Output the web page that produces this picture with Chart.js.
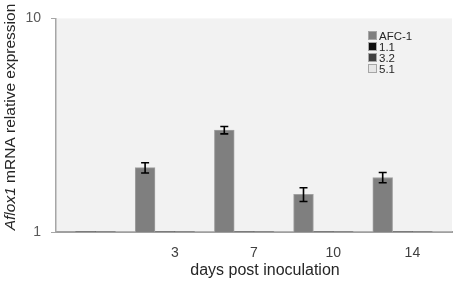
<!DOCTYPE html>
<html>
<head>
<meta charset="utf-8">
<script src="https://cdn.jsdelivr.net/npm/chart.js@4/dist/chart.umd.min.js"></script>
<style>
  html, body { margin: 0; padding: 0; background: #ffffff; }
  #wrap { width: 454px; height: 286px; }
</style>
</head>
<body>
<div id="wrap"><canvas id="c" width="454" height="286"></canvas></div>
<script>
// ---- data ----
const categories = ["", "3", "7", "10", "14"];
const seriesNames = ["AFC-1", "1.1", "3.2", "5.1"];
const afc1 = [null, 2.0, 3.0, 1.5, 1.8];
const afc1Err = [null, 0.11, 0.12, 0.11, 0.10];
const s11 = [1, 1, 1, 1, 1];
const s32 = [1, 1, 1, 1, 1];
const s51 = [1, 1, 1, 1, 1];
const yTicks = [1, 10];
const yTitleItalic = "Aflox1";
const yTitleRest = " mRNA relative expression";
const xTitle = "days post inoculation";

const colors = ["#7f7f7f", "#0d0d0d", "#404040", "#e6e6e6"];
const FONT = "'Liberation Sans', Arial, sans-serif";

const plotBg = {
  id: 'plotBg',
  beforeDraw(chart) {
    const {ctx, chartArea: a} = chart;
    ctx.save();
    ctx.fillStyle = '#f2f2f2';
    ctx.fillRect(a.left, a.top, a.right - a.left, a.bottom - a.top);
    ctx.restore();
  }
};

const errorBars = {
  id: 'errorBars',
  afterDatasetsDraw(chart) {
    const ctx = chart.ctx;
    const meta = chart.getDatasetMeta(0);
    const y = chart.scales.y;
    ctx.save();
    ctx.strokeStyle = '#000';
    ctx.lineWidth = 1.6;
    meta.data.forEach((bar, i) => {
      const v = afc1[i], e = afc1Err[i];
      if (v == null || e == null) return;
      const x = bar.x;
      const yt = y.getPixelForValue(v + e);
      const yb = y.getPixelForValue(v - e);
      ctx.beginPath();
      ctx.moveTo(x, yt); ctx.lineTo(x, yb);
      ctx.moveTo(x - 4, yt); ctx.lineTo(x + 4, yt);
      ctx.moveTo(x - 4, yb); ctx.lineTo(x + 4, yb);
      ctx.stroke();
    });
    ctx.restore();
  }
};

const texts = {
  id: 'texts',
  afterDraw(chart) {
    const ctx = chart.ctx;
    ctx.save();
    // y axis title (mixed italic / normal)
    ctx.fillStyle = '#262626';
    ctx.textBaseline = 'middle';
    const fs = 15.5;
    const fItal = 'italic ' + fs + 'px ' + FONT;
    const fNorm = fs + 'px ' + FONT;
    ctx.font = fItal; const w1 = ctx.measureText(yTitleItalic).width;
    ctx.font = fNorm; const w2 = ctx.measureText(yTitleRest).width;
    const total = w1 + w2;
    ctx.translate(11, 117);
    ctx.rotate(-Math.PI / 2);
    ctx.textAlign = 'left';
    ctx.font = fItal; ctx.fillText(yTitleItalic, -total / 2, 0);
    ctx.font = fNorm; ctx.fillText(yTitleRest, -total / 2 + w1, 0);
    ctx.setTransform(1, 0, 0, 1, 0, 0);
    // x axis title
    ctx.font = '16px ' + FONT;
    ctx.textAlign = 'center';
    ctx.textBaseline = 'alphabetic';
    ctx.fillText(xTitle, 265, 275);
    // legend
    ctx.font = '11.5px ' + FONT;
    ctx.textAlign = 'left';
    ctx.textBaseline = 'middle';
    chart.data.datasets.forEach((ds, i) => {
      const cy = 36 + i * 11;
      ctx.fillStyle = ds.backgroundColor;
      ctx.fillRect(368.5, cy - 4.5, 8, 8);
      ctx.strokeStyle = '#a6a6a6';
      ctx.lineWidth = 1;
      ctx.strokeRect(368.5, cy - 4.5, 8, 8);
      ctx.fillStyle = '#262626';
      ctx.fillText(ds.label, 379, cy + 0.5);
    });
    ctx.restore();
  }
};

new Chart(document.getElementById('c'), {
  type: 'bar',
  data: {
    labels: categories,
    datasets: [
      { label: seriesNames[0], data: afc1, backgroundColor: colors[0], borderColor: '#a0a0a0', borderWidth: 1 },
      { label: seriesNames[1], data: s11, backgroundColor: colors[1], borderColor: '#a0a0a0', borderWidth: 0 },
      { label: seriesNames[2], data: s32, backgroundColor: colors[2], borderColor: '#a0a0a0', borderWidth: 0 },
      { label: seriesNames[3], data: s51, backgroundColor: colors[3], borderColor: '#a0a0a0', borderWidth: 0 }
    ]
  },
  options: {
    responsive: false,
    animation: false,
    devicePixelRatio: 1,
    layout: { padding: { left: 0, right: 2, top: 15, bottom: 0 } },
    datasets: { bar: { categoryPercentage: 1.0, barPercentage: 1.0 } },
    plugins: {
      legend: { display: false },
      tooltip: { enabled: false }
    },
    scales: {
      x: {
        grid: { display: false, drawTicks: false },
        border: { display: true, color: '#a0a0a0', width: 2 },
        ticks: { color: '#404040', font: { family: FONT, size: 14 }, padding: 13, maxRotation: 0 },
        afterFit(s) { s.height = 54; }
      },
      y: {
        type: 'logarithmic',
        min: 1, max: 10,
        afterBuildTicks(s) { s.ticks = yTicks.map(v => ({ value: v })); },
        grid: { display: true, drawOnChartArea: false, drawTicks: true, tickLength: 5, color: '#a6a6a6' },
        border: { display: true, color: '#a6a6a6', width: 1.5 },
        ticks: { color: '#595959', font: { family: FONT, size: 14 }, padding: 10, callback: v => String(v) },
        afterFit(s) { s.width = 56; }
      }
    }
  },
  plugins: [plotBg, errorBars, texts]
});
</script>
</body>
</html>
